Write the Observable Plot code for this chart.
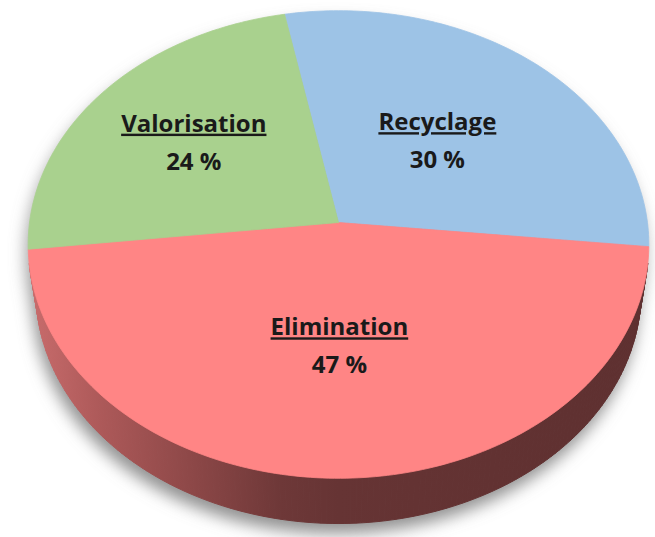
<!DOCTYPE html>
<html><head><meta charset="utf-8">
<script src="https://cdn.jsdelivr.net/npm/d3@7"></script>
<script src="https://cdn.jsdelivr.net/npm/@observablehq/plot@0.6"></script>
<style>html,body{margin:0;padding:0;background:#fff;}</style>
</head><body><div id="chart"></div>
<script>
// ---- data ----
const categories = ["Recyclage", "Elimination", "Valorisation"];
const values = [30, 47, 24];
const colors = ["#9dc3e6", "#ff8585", "#a9d18e"];

// ---- layout ----
const W = 655, H = 537;
const labelRadius = [0.49, 0.51, 0.6];
const view = {cx: 338, cy: 222, F: 2172, D: 7.03, phi: Math.asin(0.75), h: 0.238, start: -11};
const shadowColor = "#8a8a8a";

function project(X, Y, Z) { // X right, Y up, Z toward viewer
  const s = Math.sin(view.phi), c = Math.cos(view.phi);
  const v = Z * s - Y * c, w = view.D - Z * c - Y * s;
  return [view.cx + view.F * X / w, view.cy + view.F * v / w];
}
function rim(deg, r = 1, Y = 0) {
  const t = deg * Math.PI / 180;
  return project(r * Math.sin(t), Y, -r * Math.cos(t));
}

const a0 = view.start * Math.PI / 180;
const arcs = d3.pie().sort(null).value(d => d).startAngle(a0).endAngle(a0 + 2 * Math.PI)(values);

const [ax, ay] = project(0, 0, 0);
const slices = arcs.map((a, i) => {
  const s = a.startAngle * 180 / Math.PI, e = a.endAngle * 180 / Math.PI;
  const n = Math.ceil(e - s);
  const pts = [{x: ax, y: ay}];
  for (let j = 0; j <= n; j++) { const [x, y] = rim(s + (e - s) * j / n); pts.push({x, y}); }
  pts.push({x: ax, y: ay});
  return pts;
});

// visible side band (front-facing part of the cylinder wall)
const sidePts = [];
for (let t = 100, q = 0; t < 260; t += 1, q++) {
  const p = [rim(t), rim(t + 1), rim(t + 1, 1, -view.h), rim(t, 1, -view.h), rim(t)];
  p.forEach(([x, y]) => sidePts.push({q, x, y}));
}
const topPts = [];
for (let t = 0; t <= 360; t += 2) { const [x, y] = rim(t); topPts.push({q: -1, x, y}); }
const botPts = [];
for (let t = 0; t <= 360; t += 2) { const [x, y] = rim(t, 1, -view.h); botPts.push({q: -2, x, y}); }
const shadowPts = sidePts.concat(topPts, botPts);

const labels = arcs.map((a, i) => {
  const mid = (a.startAngle + a.endAngle) / 2 * 180 / Math.PI;
  const [x, y] = rim(mid, labelRadius[i]);
  return {x, y, name: categories[i], pct: `${values[i]} %`};
});

const font = {fontFamily: "'Open Sans', sans-serif", fontSize: 24, fontWeight: "bold", fill: "#1a1a1a"};

const chart = Plot.plot({
  width: W, height: H, margin: 0,
  x: {domain: [0, W], range: [0, W], axis: null},
  y: {domain: [0, H], range: [0, H], axis: null},
  style: {background: "white"},
  marks: [
    Plot.line(shadowPts, {x: "x", y: "y", z: "q", fill: shadowColor, stroke: "none", dy: 10, dx: -3, opacity: 0.75}),
    Plot.line(sidePts, {x: "x", y: "y", z: "q", fill: "url(#sideGrad)", stroke: "url(#sideGrad)", strokeWidth: 1}),
    ...slices.map((pts, i) => Plot.line(pts, {x: "x", y: "y", fill: colors[i], stroke: colors[i], strokeWidth: 0.8})),
    Plot.text(labels, {x: "x", y: "y", text: "name", dy: -19, ...font}),
    Plot.text(labels, {x: "x", y: "y", text: "pct", dy: 19, ...font})
  ]
});

const svg = d3.select(chart);
const defs = svg.insert("defs", ":first-child");
const grad = defs.append("linearGradient").attr("id", "sideGrad").attr("gradientUnits", "userSpaceOnUse")
  .attr("x1", 28).attr("x2", 648).attr("y1", 0).attr("y2", 0);
[[0, "#c96c6c"], [0.116, "#ad5959"], [0.277, "#8a4646"], [0.406, "#6e3838"], [0.5, "#663434"], [1, "#5e3030"]]
  .forEach(([o, c]) => grad.append("stop").attr("offset", o).attr("stop-color", c));
defs.append("filter").attr("id", "blur").attr("x", "-20%").attr("y", "-20%").attr("width", "140%").attr("height", "140%")
  .append("feGaussianBlur").attr("stdDeviation", 8);
svg.selectAll("g").filter(function () { return this.getAttribute("fill") === shadowColor; }).attr("filter", "url(#blur)");
svg.selectAll("text").filter(function () { return categories.includes(this.textContent); })
  .style("text-decoration", "underline");

document.getElementById("chart").appendChild(chart);
</script>
</body></html>
